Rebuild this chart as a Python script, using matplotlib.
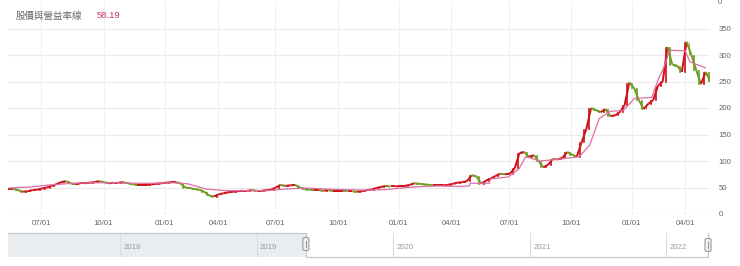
import numpy as np
import pandas as pd
import matplotlib
matplotlib.use("Agg")
import matplotlib.pyplot as plt
import matplotlib.dates as mdates
from matplotlib.patches import Rectangle, FancyBboxPatch
from matplotlib.lines import Line2D
from matplotlib.collections import LineCollection

plt.rcParams['font.family'] = ['Liberation Sans', 'Noto Sans CJK TC', 'DejaVu Sans']

# ---------------- data ----------------
title_text = "股價與營益率線"
title_value = "58.19"

first_day = "2019-05-13"
last_day = "2022-05-31"
holidays = ["2019-06-07", "2019-09-13", "2019-10-10", "2019-10-11",
            "2020-01-01", "2020-01-21", "2020-01-22", "2020-01-23", "2020-01-24",
            "2020-01-27", "2020-01-28", "2020-01-29", "2020-02-28", "2020-04-02",
            "2020-04-03", "2020-05-01", "2020-06-25", "2020-06-26", "2020-10-01",
            "2020-10-02", "2020-10-09",
            "2021-01-01", "2021-02-08", "2021-02-09", "2021-02-10", "2021-02-11",
            "2021-02-12", "2021-02-15", "2021-02-16", "2021-03-01", "2021-04-02",
            "2021-04-05", "2021-04-30", "2021-06-14", "2021-09-20", "2021-09-21",
            "2021-10-11", "2021-12-31",
            "2022-01-27", "2022-01-28", "2022-01-31", "2022-02-01", "2022-02-02",
            "2022-02-03", "2022-02-04", "2022-02-28", "2022-04-04", "2022-04-05"]
days_per_candle = 5

closes = [
    48, 45, 42, 43, 45, 46, 48, 50, 53, 56,
    60, 62, 58, 56, 58, 58, 59, 60, 62, 60,
    58, 59, 59, 60, 58, 56, 55, 55, 55, 56,
    57, 58, 59, 60, 60, 58, 50, 49, 47, 46,
    42, 35, 33, 37, 39, 41, 42, 43, 44, 44,
    45, 44, 44, 45, 46, 50, 55, 53, 54, 55,
    50, 47, 46, 45, 45, 44, 45, 44, 44, 44,
    43, 43, 42, 43, 45, 46, 49, 51, 53, 52,
    52, 53, 53, 55, 58, 57, 56, 55, 54, 54,
    54, 55, 57, 59, 60, 62, 73, 71, 57, 63,
    67, 72, 76, 75, 76, 86, 115, 117, 108, 111,
    100, 88, 93, 104, 103, 106, 117, 112, 108, 135,
    160, 200, 196, 192, 198, 185, 186, 192, 205, 248,
    238, 215, 198, 208, 215, 242, 250, 315, 282, 280,
    268, 325, 300, 272, 245, 268, 250]

ma_dates = ["2019-05-13", "2019-06-14", "2019-07-15", "2019-08-15", "2019-09-16",
            "2019-10-15", "2019-11-15", "2019-12-16", "2020-01-15", "2020-02-14",
            "2020-03-02", "2020-03-16", "2020-04-15", "2020-05-15", "2020-06-15",
            "2020-07-15", "2020-08-14", "2020-09-15", "2020-10-15", "2020-11-16",
            "2020-12-15", "2021-01-15", "2021-02-17", "2021-03-15", "2021-04-15",
            "2021-05-03", "2021-05-04", "2021-06-01", "2021-06-02", "2021-06-30",
            "2021-07-15", "2021-07-26", "2021-08-16", "2021-09-15", "2021-10-15",
            "2021-11-01", "2021-11-15", "2021-12-01", "2021-12-20", "2022-01-06",
            "2022-02-10", "2022-02-21", "2022-03-02", "2022-03-10", "2022-04-01",
            "2022-04-12", "2022-05-04"]
ma_values = [49, 51, 55, 58, 59,
             59, 58, 58, 59, 57,
             52, 47, 44, 44, 44,
             47, 49, 47, 46, 45,
             46, 50, 52, 53, 52,
             53, 58, 58, 66, 70,
             85, 108, 100, 104, 108,
             130, 180, 194, 195, 218,
             220, 255, 278, 309, 308,
             287, 276]

y_ticks = [0, 50, 100, 150, 200, 250, 300, 350]
y_top_label = "0"
x_tick_dates = ["2019-07-01", "2019-10-01", "2020-01-01", "2020-04-01",
                "2020-07-01", "2020-10-01", "2021-01-01", "2021-04-01",
                "2021-07-01", "2021-10-01", "2022-01-01", "2022-04-01"]
x_tick_labels = ["07/01", "10/01", "01/01", "04/01", "07/01", "10/01",
                 "01/01", "04/01", "07/01", "10/01", "01/01", "04/01"]
nav_years = ["2018", "2019", "2020", "2021", "2022"]
nav_start = "2017-03-07"
nav_end = "2022-04-23"

# ---------------- trading-day (ordinal) axis ----------------
td = pd.bdate_range(first_day, last_day)
td = td[~td.isin(pd.to_datetime(holidays))]


def pos(d):
    return int(td.searchsorted(pd.Timestamp(d)))


n = len(closes)
candle_dates = td[::days_per_candle][:n]
xs = np.array([pos(d) for d in candle_dates], dtype=float) + 2
closes_a = np.array(closes, dtype=float)
opens_a = np.concatenate([[closes_a[0]], closes_a[:-1]])
up_col = "#d0141c"
dn_col = "#6f9c22"
cols = [up_col if c >= o else dn_col for o, c in zip(opens_a, closes_a)]

W, H = 740, 266
fig = plt.figure(figsize=(W / 100, H / 100), dpi=100)
fig.patch.set_facecolor("white")

ax_l, ax_r, ax_t, ax_b = 8, 710, 2, 214
ax = fig.add_axes([ax_l / W, (H - ax_b) / H, (ax_r - ax_l) / W, (ax_b - ax_t) / H])
ax.set_xlim(xs[0] - 3, xs[-1] + 2)
ax.set_ylim(0, 400)
for s in ax.spines.values():
    s.set_visible(False)

tick_pos = [pos(d) for d in x_tick_dates]
for tp in tick_pos:
    ax.axvline(tp, color="#f0f0f0", lw=0.8, zorder=0)
for yv in y_ticks[1:]:
    ax.axhline(yv, color="#ececec", lw=0.8, zorder=0)
ax.axhline(0, color="#d6d6d6", lw=0.9, zorder=0)

# dense candles at this scale read as a jagged coloured trace: each period
# runs from its open (left) to its close (right)
half = days_per_candle / 2
segs = [[(x - half, o), (x + half, c)] for x, o, c in zip(xs, opens_a, closes_a)]
ax.add_collection(LineCollection(segs, colors=cols, linewidths=1.45,
                                 capstyle="butt", zorder=2))
ax.bar(xs, closes_a - opens_a, bottom=opens_a, width=1.0, color=cols,
       edgecolor=cols, linewidth=0.5, zorder=2)

ma_x = [pos(d) for d in ma_dates]
ax.plot(ma_x, ma_values, color="#de6fa3", lw=0.9, zorder=3)

ax.set_yticks(y_ticks)
ax.set_yticklabels([str(v) for v in y_ticks])
ax.yaxis.tick_right()
ax.tick_params(axis="y", length=0, pad=6, labelsize=5.6, labelcolor="#666666")
ax.set_xticks(tick_pos)
ax.set_xticklabels(x_tick_labels)
ax.tick_params(axis="x", length=0, pad=4, labelsize=5.6, labelcolor="#666666")
ax.text(1.0 + 8 / (ax_r - ax_l), 400, y_top_label, transform=ax.get_yaxis_transform(),
        fontsize=5.6, color="#666666", va="center", ha="left", clip_on=False)

# title
fig.text(16 / W, 1 - 16 / H, title_text, fontsize=6.8, color="#666666",
         va="center", ha="left", family=["Noto Sans CJK TC", "DejaVu Sans"])
fig.text(97 / W, 1 - 16 / H, title_value, fontsize=6.8, color="#c8356a",
         va="center", ha="left")

# ---------------- navigator ----------------
nv_t, nv_b = 233, 257
axn = fig.add_axes([ax_l / W, (H - nv_b) / H, (708 - ax_l) / W, (nv_b - nv_t) / H])
n0 = mdates.date2num(pd.Timestamp(nav_start))
n1 = mdates.date2num(pd.Timestamp(nav_end))
axn.set_xlim(n0, n1)
axn.set_ylim(0, 1)
axn.axis("off")
sel0 = mdates.date2num(pd.Timestamp(candle_dates[0]))
sel1 = n1
axn.add_patch(Rectangle((n0, 0), sel0 - n0, 1, facecolor="#eaedf0",
                        edgecolor="none", zorder=0))
for yr in nav_years:
    yx = mdates.date2num(pd.Timestamp(yr + "-01-01"))
    axn.axvline(yx, color="#dcdcdc", lw=0.8, zorder=1)
    axn.annotate(yr, (yx, 0.38), xytext=(2.5, 0), textcoords="offset points",
                 fontsize=5.6, color="#999999", va="center", ha="left")
axn.plot([n0, sel0, sel0, sel1, sel1], [1, 1, 0, 0, 1], color="#c8c8c8",
         lw=0.9, clip_on=False, zorder=3)

fig.canvas.draw()
for hx, hy in [(sel0, 244), (sel1, 245)]:
    px = axn.transData.transform((hx, 0))[0]
    hw, hh = 6, 13
    fig.patches.append(FancyBboxPatch(((px - hw / 2) / W, (H - hy - hh / 2) / H),
                                      hw / W, hh / H,
                                      boxstyle="round,pad=0,rounding_size=0.004",
                                      transform=fig.transFigure, facecolor="#f2f2f2",
                                      edgecolor="#999999", lw=0.8, zorder=5))
    fig.lines.append(Line2D([px / W, px / W], [(H - hy - 3) / H, (H - hy + 3) / H],
                            transform=fig.transFigure, color="#999999", lw=0.8,
                            zorder=6))

fig.savefig("out.png", dpi=100)
